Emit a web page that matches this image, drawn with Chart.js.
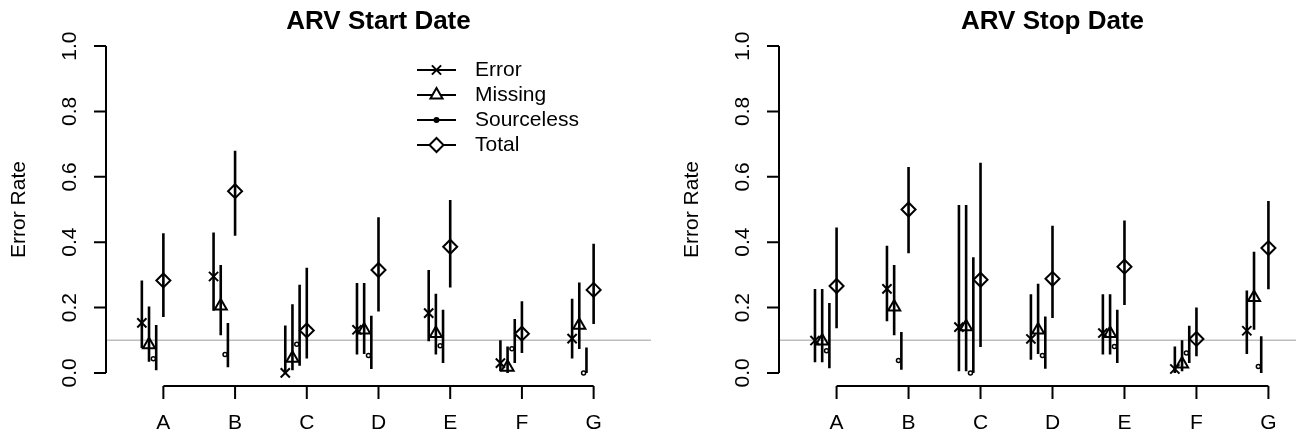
<!DOCTYPE html>
<html>
<head>
<meta charset="utf-8">
<script src="https://cdn.jsdelivr.net/npm/chart.js@4.4.0/dist/chart.umd.min.js"></script>
<style>
    html, body { margin: 0; padding: 0; background: #fff; overflow: hidden; }
    #wrap { position: relative; width: 1296px; height: 438px; overflow: hidden; }
    canvas { position: absolute; top: 0; }
    #startChart { left: 0; }
    #stopChart { left: 660px; }
</style>
</head>
<body>
<div id="wrap">
    <canvas id="startChart" width="660" height="438"></canvas>
    <canvas id="stopChart" width="680" height="438"></canvas>
</div>
<script>
const categories = ["A", "B", "C", "D", "E", "F", "G"];
const yTicks = [0, 0.2, 0.4, 0.6, 0.8, 1.0];
const seriesNames = ["Error", "Missing", "Sourceless", "Total"];
const referenceRate = 0.1;

// ARV Start Date: estimate, lower bound, upper bound
const startError = [0.153, 0.295, 0.0, 0.132, 0.183, 0.03, 0.105];
const startErrorLo = [0.076, 0.19, 0.0, 0.056, 0.097, 0.005, 0.044];
const startErrorHi = [0.283, 0.43, 0.145, 0.275, 0.315, 0.10, 0.227];
const startMissing = [0.086, 0.205, 0.045, 0.131, 0.121, 0.017, 0.146];
const startMissingLo = [0.034, 0.115, 0.008, 0.058, 0.056, 0.0, 0.073];
const startMissingHi = [0.203, 0.33, 0.21, 0.275, 0.242, 0.081, 0.277];
const startSourceless = [0.043, 0.056, 0.088, 0.053, 0.083, 0.074, 0.0];
const startSourcelessLo = [0.008, 0.017, 0.022, 0.012, 0.03, 0.03, 0.0];
const startSourcelessHi = [0.147, 0.153, 0.27, 0.175, 0.193, 0.165, 0.078];
const startTotal = [0.283, 0.556, 0.13, 0.315, 0.386, 0.12, 0.254];
const startTotalLo = [0.171, 0.42, 0.044, 0.188, 0.261, 0.061, 0.15];
const startTotalHi = [0.427, 0.68, 0.322, 0.476, 0.529, 0.219, 0.395];

// ARV Stop Date
const stopError = [0.099, 0.257, 0.14, 0.104, 0.122, 0.012, 0.129];
const stopErrorLo = [0.033, 0.158, 0.005, 0.04, 0.056, 0.0, 0.058];
const stopErrorHi = [0.257, 0.389, 0.514, 0.241, 0.241, 0.081, 0.252];
const stopMissing = [0.098, 0.202, 0.141, 0.131, 0.121, 0.027, 0.231];
const stopMissingLo = [0.033, 0.115, 0.005, 0.058, 0.056, 0.005, 0.132];
const stopMissingHi = [0.257, 0.33, 0.514, 0.273, 0.241, 0.10, 0.371];
const stopSourceless = [0.068, 0.038, 0.0, 0.053, 0.081, 0.061, 0.02];
const stopSourcelessLo = [0.014, 0.01, 0.0, 0.013, 0.03, 0.03, 0.0];
const stopSourcelessHi = [0.214, 0.125, 0.354, 0.173, 0.193, 0.144, 0.112];
const stopTotal = [0.266, 0.50, 0.285, 0.288, 0.325, 0.104, 0.382];
const stopTotalLo = [0.137, 0.366, 0.079, 0.168, 0.208, 0.051, 0.256];
const stopTotalHi = [0.445, 0.63, 0.643, 0.45, 0.466, 0.2, 0.526];

const FONT = "'Liberation Sans', Arial, sans-serif";

// dodge each series left of the category
const offsets = [-0.3, -0.2, -0.1, 0];
const pointShift = [0, 0, -0.04, 0]; // small dot sits a bit left of its bar
const markers = [
    { style: "crossRot", radius: 6.5, bg: "rgba(0,0,0,0)", bw: 2 },
    { style: "triangle", radius: 7, bg: "rgba(0,0,0,0)", bw: 2 },
    { style: "circle", radius: 2, bg: "#fff", bw: 1.5 },
    { style: "rectRot", radius: 7, bg: "rgba(0,0,0,0)", bw: 2 }
];

function buildDatasets(values, lows, highs) {
    const points = values.map((vals, s) => ({
        data: vals.map((v, i) => ({ x: i + 1 + offsets[s] + pointShift[s], y: v })),
        showLine: false,
        borderColor: "#000",
        pointStyle: markers[s].style,
        pointRadius: markers[s].radius,
        pointBorderWidth: markers[s].bw,
        pointBorderColor: "#000",
        pointBackgroundColor: markers[s].bg
    }));
    const bars = values.map((vals, s) => {
        const data = [];
        vals.forEach((v, i) => {
            const x = i + 1 + offsets[s];
            data.push({ x: x, y: lows[s][i] }, { x: x, y: highs[s][i] }, { x: x, y: null });
        });
        return {
            data: data,
            showLine: true,
            spanGaps: false,
            borderColor: "#000",
            borderWidth: 2.6,
            borderCapStyle: "butt",
            pointRadius: 0,
            fill: false
        };
    });
    // points first so they are drawn on top of the bars
    return points.concat(bars);
}

function rAxes(title, withLegend) {
    return {
        id: "rAxes",
        beforeDatasetsDraw(chart) {
            const { ctx, chartArea, scales: { y } } = chart;
            const yy = y.getPixelForValue(referenceRate);
            ctx.save();
            ctx.strokeStyle = "#bdbdbd";
            ctx.lineWidth = 1.5;
            ctx.beginPath();
            ctx.moveTo(chartArea.left, yy);
            ctx.lineTo(chartArea.right, yy);
            ctx.stroke();
            ctx.restore();
        },
        afterDraw(chart) {
            const { ctx, chartArea, scales: { x, y } } = chart;
            ctx.save();
            ctx.strokeStyle = "#000";
            ctx.fillStyle = "#000";
            ctx.lineWidth = 2;

            // y axis
            const left = chartArea.left;
            ctx.beginPath();
            ctx.moveTo(left, y.getPixelForValue(yTicks[0]));
            ctx.lineTo(left, y.getPixelForValue(yTicks[yTicks.length - 1]));
            yTicks.forEach(t => {
                const py = y.getPixelForValue(t);
                ctx.moveTo(left, py);
                ctx.lineTo(left - 12, py);
            });
            ctx.stroke();
            ctx.font = "21px " + FONT;
            ctx.textAlign = "center";
            ctx.textBaseline = "middle";
            yTicks.forEach(t => {
                ctx.save();
                ctx.translate(left - 36, y.getPixelForValue(t));
                ctx.rotate(-Math.PI / 2);
                ctx.fillText(t.toFixed(1), 0, 0);
                ctx.restore();
            });
            ctx.save();
            ctx.translate(left - 87, (chartArea.top + chartArea.bottom) / 2);
            ctx.rotate(-Math.PI / 2);
            ctx.fillText("Error Rate", 0, 0);
            ctx.restore();

            // x axis
            const bottom = chartArea.bottom;
            ctx.beginPath();
            ctx.moveTo(x.getPixelForValue(1), bottom);
            ctx.lineTo(x.getPixelForValue(categories.length), bottom);
            categories.forEach((c, i) => {
                const px = x.getPixelForValue(i + 1);
                ctx.moveTo(px, bottom);
                ctx.lineTo(px, bottom + 13);
            });
            ctx.stroke();
            categories.forEach((c, i) => {
                ctx.fillText(c, x.getPixelForValue(i + 1), bottom + 37);
            });

            // title
            ctx.font = "bold 26px " + FONT;
            ctx.fillText(title, (chartArea.left + chartArea.right) / 2, 22);

            if (withLegend) {
                ctx.font = "21px " + FONT;
                ctx.textAlign = "left";
                seriesNames.forEach((name, s) => {
                    const ly = 70 + s * 25;
                    ctx.lineWidth = 2;
                    ctx.beginPath();
                    ctx.moveTo(417, ly);
                    ctx.lineTo(456, ly);
                    ctx.stroke();
                    const m = markers[s];
                    ctx.fillStyle = s === 2 ? "#000" : "#fff";
                    if (Chart.helpers && Chart.helpers.drawPoint) {
                        Chart.helpers.drawPoint(ctx, {
                            pointStyle: m.style,
                            radius: m.radius,
                            rotation: 0,
                            borderWidth: m.bw
                        }, 436.5, ly);
                    }
                    ctx.fillStyle = "#000";
                    ctx.fillText(name, 475, ly);
                });
            }
            ctx.restore();
        }
    };
}

function makeChart(id, title, datasets, padding, withLegend) {
    return new Chart(document.getElementById(id).getContext("2d"), {
        type: "line",
        data: { datasets: datasets },
        options: {
            responsive: false,
            animation: false,
            events: [],
            layout: { padding: padding },
            scales: {
                x: { type: "linear", min: 0.2, max: 7.8, display: false },
                y: { type: "linear", min: -0.04, max: 1.04, display: false }
            },
            plugins: {
                legend: { display: false },
                tooltip: { enabled: false }
            }
        },
        plugins: [rAxes(title, withLegend)]
    });
}

makeChart("startChart", "ARV Start Date",
    buildDatasets(
        [startError, startMissing, startSourceless, startTotal],
        [startErrorLo, startMissingLo, startSourcelessLo, startTotalLo],
        [startErrorHi, startMissingHi, startSourcelessHi, startTotalHi]),
    { left: 106, right: 7, top: 33, bottom: 52 }, true);

makeChart("stopChart", "ARV Stop Date",
    buildDatasets(
        [stopError, stopMissing, stopSourceless, stopTotal],
        [stopErrorLo, stopMissingLo, stopSourcelessLo, stopTotalLo],
        [stopErrorHi, stopMissingHi, stopSourcelessHi, stopTotalHi]),
    { left: 119, right: 14, top: 33, bottom: 52 }, false);
</script>
</body>
</html>
